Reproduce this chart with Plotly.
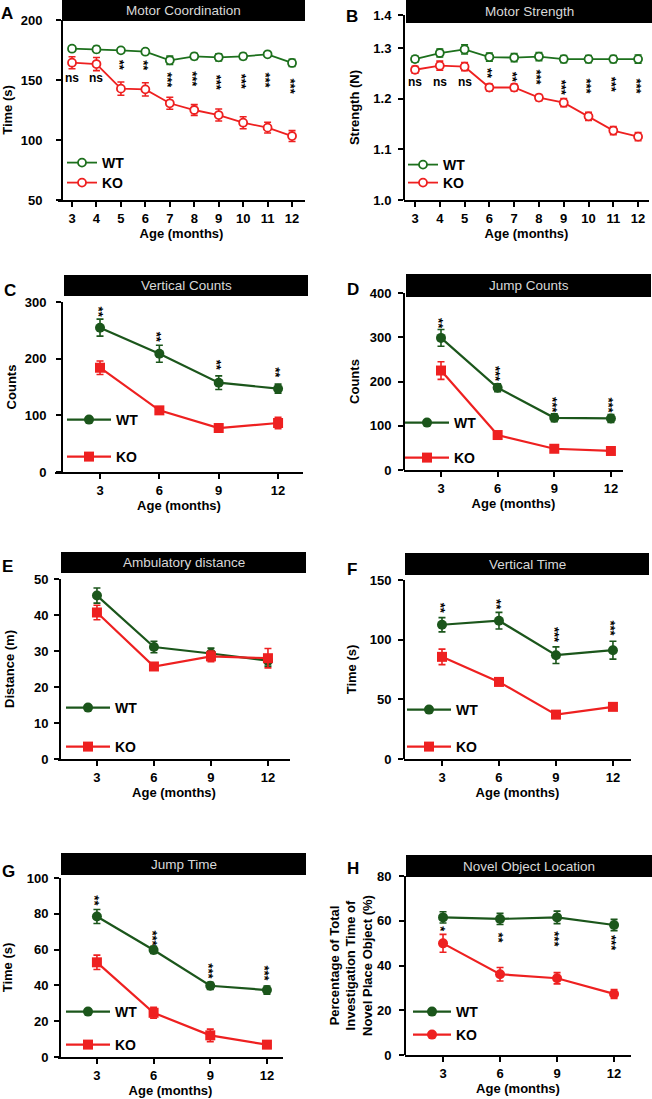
import plotly.graph_objects as go

W, H = 652, 1099

# ---------------- data ----------------
months_all = [3, 4, 5, 6, 7, 8, 9, 10, 11, 12]
months_q = [3, 6, 9, 12]

# A Motor Coordination (Time, s)
coord_wt = [176.1, 175.5, 174.7, 173.6, 166.4, 169.7, 168.9, 169.7, 171.4, 164.2]
coord_wt_err = [2.0, 2.5, 2.0, 2.0, 3.5, 2.5, 3.0, 2.5, 1.5, 3.0]
coord_ko = [164.4, 163.3, 142.8, 142.2, 130.6, 125.0, 120.8, 114.4, 110.3, 103.3]
coord_ko_err = [5.0, 5.5, 5.5, 5.5, 5.0, 4.5, 5.0, 5.0, 4.5, 4.5]
coord_sig = ["ns", "ns", "**", "**", "***", "***", "***", "***", "***", "***"]

# B Motor Strength (N)
strength_wt = [1.278, 1.290, 1.297, 1.282, 1.281, 1.283, 1.278, 1.278, 1.278, 1.278]
strength_wt_err = [0.006, 0.008, 0.009, 0.008, 0.008, 0.008, 0.007, 0.007, 0.007, 0.008]
strength_ko = [1.257, 1.265, 1.263, 1.222, 1.222, 1.202, 1.192, 1.165, 1.137, 1.125]
strength_ko_err = [0.007, 0.009, 0.008, 0.007, 0.007, 0.006, 0.008, 0.008, 0.008, 0.008]
strength_sig = ["ns", "ns", "ns", "**", "**", "***", "***", "***", "***", "***"]
strength_ticks = ["1.0", "1.1", "1.2", "1.3", "1.4"]

# C Vertical Counts
vcount_wt = [254.7, 208.8, 157.6, 147.0]
vcount_wt_err = [15, 15, 12, 8]
vcount_ko = [184.0, 108.8, 77.6, 86.5]
vcount_ko_err = [12, 5, 7, 10]
vcount_sig = ["**", "**", "**", "**"]

# D Jump Counts
jcount_wt = [298.5, 185.7, 118.0, 116.5]
jcount_wt_err = [19, 9, 9, 9]
jcount_ko = [224.8, 79.0, 48.0, 43.0]
jcount_ko_err = [20, 5, 5, 5]
jcount_sig = ["**", "***", "***", "***"]

# E Ambulatory distance (m)
dist_wt = [45.4, 31.1, 29.3, 27.3]
dist_wt_err = [2.1, 1.6, 1.5, 1.5]
dist_ko = [40.7, 25.7, 28.5, 28.0]
dist_ko_err = [2.0, 1.0, 1.5, 2.7]

# F Vertical Time (s)
vtime_wt = [112.5, 115.9, 87.0, 91.2]
vtime_wt_err = [6.0, 7.0, 7.0, 7.5]
vtime_ko = [85.6, 64.6, 37.2, 43.7]
vtime_ko_err = [6.5, 3.0, 2.0, 2.5]
vtime_sig = ["**", "**", "***", "***"]

# G Jump Time (s)
jtime_wt = [78.5, 59.8, 39.8, 37.4]
jtime_wt_err = [3.9, 2.0, 2.0, 2.3]
jtime_ko = [52.9, 24.7, 12.1, 6.9]
jtime_ko_err = [4.0, 3.0, 3.5, 1.5]
jtime_sig = ["**", "***", "***", "***"]

# H Novel Object Location (%)
nol_wt = [61.5, 60.8, 61.5, 58.1]
nol_wt_err = [2.5, 2.5, 2.8, 2.5]
nol_ko = [49.9, 36.1, 34.3, 27.3]
nol_ko_err = [4.0, 3.0, 2.5, 2.0]
nol_sig = ["*", "**", "***", "***"]

# ---------------- styling ----------------
GREEN_AB = "#1d701d"
GREEN = "#1b561b"
RED = "#ee2020"
FONT = "Liberation Sans, Arial, sans-serif"


def px_x(p):
    return p / W


def px_y(p):
    return 1 - p / H


panels = [
    dict(letter="A", title="Motor Coordination", xd=(58, 305), ypos=62, yd=(20, 200),
         xr=[2.427, 12.53], yr=[50, 200], xt=months_all, ytv=[50, 100, 150, 200], ytt=None,
         ytitle="Time (s)", tls=11, tso=6, bar=(62, 305, 0, 21), lp=(2, 14)),
    dict(letter="B", title="Motor Strength", xd=(404, 649), ypos=404, yd=(15, 200),
         xr=[2.556, 12.44], yr=[1.0, 1.365], xt=months_all, ytv=[1.0, 1.1, 1.2, 1.3, 1.365],
         ytt=strength_ticks, ytitle="Strength (N)", tls=4, tso=10, bar=(406, 652, 0, 23), lp=(347, 17)),
    dict(letter="C", title="Vertical Counts", xd=(55, 303), ypos=62, yd=(302, 472),
         xr=[0.725, 13.26], yr=[0, 300], xt=months_q, ytv=[0, 100, 200, 300], ytt=None,
         ytitle="Counts", tls=7, tso=4, bar=(64, 308, 275, 296), lp=(5, 291)),
    dict(letter="D", title="Jump Counts", xd=(404, 623), ypos=404, yd=(293, 470),
         xr=[1.04, 12.64], yr=[0, 400], xt=months_q, ytv=[0, 100, 200, 300, 400], ytt=None,
         ytitle="Counts", tls=4, tso=6, bar=(406, 651, 274, 297), lp=(348, 289)),
    dict(letter="E", title="Ambulatory distance", xd=(58, 290), ypos=60, yd=(579, 759),
         xr=[0.95, 13.16], yr=[0, 50], xt=months_q, ytv=[0, 10, 20, 30, 40, 50], ytt=None,
         ytitle="Distance (m)", tls=3, tso=15, bar=(61, 306, 552, 573), lp=(3, 566)),
    dict(letter="F", title="Vertical Time", xd=(404, 631), ypos=404, yd=(580, 759),
         xr=[1.0, 12.95], yr=[0, 150], xt=months_q, ytv=[0, 50, 100, 150], ytt=None,
         ytitle="Time (s)", tls=4, tso=9, bar=(405, 649, 553, 575), lp=(348, 569)),
    dict(letter="G", title="Jump Time", xd=(58, 283), ypos=60, yd=(878, 1057),
         xr=[0.94, 12.85], yr=[0, 100], xt=months_q, ytv=[0, 20, 40, 60, 80, 100], ytt=None,
         ytitle="Time (s)", tls=3, tso=10, bar=(61, 306, 853, 875), lp=(3, 871)),
    dict(letter="H", title="Novel Object Location", xd=(405, 631), ypos=405, yd=(876, 1055),
         xr=[1.0, 12.89], yr=[0, 80], xt=months_q, ytv=[0, 20, 40, 60, 80], ytt=None,
         ytitle="Percentage of Total<br>Investigation Time of<br>Novel Place Object (%)",
         tls=5, tso=0, bar=(406, 652, 855, 877), lp=(348, 868)),
]

series = [
    (months_all, coord_wt, coord_wt_err, coord_ko, coord_ko_err, "open", "open", GREEN_AB),
    (months_all, strength_wt, strength_wt_err, strength_ko, strength_ko_err, "open", "open", GREEN_AB),
    (months_q, vcount_wt, vcount_wt_err, vcount_ko, vcount_ko_err, "circle", "square", GREEN),
    (months_q, jcount_wt, jcount_wt_err, jcount_ko, jcount_ko_err, "circle", "square", GREEN),
    (months_q, dist_wt, dist_wt_err, dist_ko, dist_ko_err, "circle", "square", GREEN),
    (months_q, vtime_wt, vtime_wt_err, vtime_ko, vtime_ko_err, "circle", "square", GREEN),
    (months_q, jtime_wt, jtime_wt_err, jtime_ko, jtime_ko_err, "circle", "square", GREEN),
    (months_q, nol_wt, nol_wt_err, nol_ko, nol_ko_err, "circle", "circle", GREEN),
]

sig_sets = [
    (coord_sig, [151.5, 151.5, 162, 162, 150, 150.5, 148, 148.5, 150, 144.5]),
    (strength_sig, [1.233, 1.233, 1.233, 1.25, 1.243, 1.242, 1.222, 1.225, 1.227, 1.224]),
    (vcount_sig, [283, 238, 188, 176]),
    (jcount_sig, [332, 218, 146, 146]),
    None,
    (vtime_sig, [126, 129, 104, 109.5]),
    (jtime_sig, [87, 66.5, 47.7, 46.7]),
    (nol_sig, [56.2, 52.5, 51.7, 50]),
]

# legend placement: (line start x px, WT centre y px, KO centre y px, symbol width)
legend_pos = [(68, 163, 183, 30), (409, 165, 183, 30), (68, 420, 457, 44), (406, 423, 458, 44),
              (67, 708, 747, 44), (408, 710, 747, 44), (67, 1012, 1045, 44), (414, 1012, 1035, 38)]

fig = go.Figure()
layout = dict(width=W, height=H, margin=dict(l=0, r=0, t=0, b=0, autoexpand=False),
              paper_bgcolor="white", plot_bgcolor="white", showlegend=True,
              font=dict(family=FONT, color="black"))
shapes, annotations = [], []
legend_font = dict(size=14, family=FONT, weight="bold", color="black")

for i, (p, s) in enumerate(zip(panels, series)):
    n = i + 1
    xa = "xaxis" if n == 1 else f"xaxis{n}"
    ya = "yaxis" if n == 1 else f"yaxis{n}"
    xref = "x" if n == 1 else f"x{n}"
    yref = "y" if n == 1 else f"y{n}"
    lg_wt = "legend" if n == 1 else f"legend{2 * n - 1}"
    lg_ko = f"legend{2 * n}"
    x, wt, wte, ko, koe, wsym, ksym, gcol = s

    def marker(sym, col):
        if sym == "open":
            return dict(symbol="circle", size=8, color="white", line=dict(color=col, width=1.8))
        return dict(symbol=sym, size=10, color=col, line=dict(color=col, width=0))

    lw = 1.8 if wsym == "open" else 2.2
    fig.add_trace(go.Scatter(x=x, y=wt, name="WT", mode="lines+markers", xaxis=xref, yaxis=yref,
                             line=dict(color=gcol, width=lw), marker=marker(wsym, gcol),
                             error_y=dict(type="data", array=wte, color=gcol, thickness=1.6, width=3.5),
                             legend=lg_wt))
    fig.add_trace(go.Scatter(x=x, y=ko, name="KO", mode="lines+markers", xaxis=xref, yaxis=yref,
                             line=dict(color=RED, width=lw), marker=marker(ksym, RED),
                             error_y=dict(type="data", array=koe, color=RED, thickness=1.6, width=3.5),
                             legend=lg_ko))

    layout[xa] = dict(domain=[px_x(p["xd"][0]), px_x(p["xd"][1])], range=p["xr"], anchor=yref,
                      automargin=False,
                      showline=True, linecolor="black", linewidth=2, ticks="outside", ticklen=5,
                      tickwidth=2, tickcolor="black", tickvals=p["xt"], showgrid=False, zeroline=False,
                      tickfont=dict(size=13, family=FONT, weight="bold"),
                      title=dict(text="Age (months)", font=dict(size=13, family=FONT, weight="bold"),
                                 standoff=4))
    yd = dict(domain=[px_y(p["yd"][1]), px_y(p["yd"][0])], range=p["yr"], anchor="free",
              position=px_x(p["ypos"]), automargin=False,
              showline=True, linecolor="black", linewidth=2,
              ticks="outside", ticklen=5, tickwidth=2, tickcolor="black", tickvals=p["ytv"],
              ticklabelstandoff=p["tls"],
              showgrid=False, zeroline=False,
              tickfont=dict(size=13, family=FONT, weight="bold"),
              title=dict(text=p["ytitle"], font=dict(size=13, family=FONT, weight="bold"),
                         standoff=p["tso"]))
    if p["ytt"] is not None:
        yd["ticktext"] = p["ytt"]
    layout[ya] = yd

    bx0, bx1, by0, by1 = p["bar"]
    shapes.append(dict(type="rect", xref="paper", yref="paper", x0=px_x(bx0), x1=px_x(bx1),
                       y0=px_y(by1), y1=px_y(by0), fillcolor="black", line=dict(width=0), layer="above"))
    annotations.append(dict(xref="paper", yref="paper", x=px_x((bx0 + bx1) / 2), y=px_y((by0 + by1) / 2),
                            text=p["title"], showarrow=False, xanchor="center", yanchor="middle",
                            font=dict(size=13.5, family=FONT, color="#d8d8d8")))
    annotations.append(dict(xref="paper", yref="paper", x=px_x(p["lp"][0] - 3), y=px_y(p["lp"][1]),
                            text=f"<b>{p['letter']}</b>", showarrow=False, xanchor="left", yanchor="middle",
                            font=dict(size=17, family=FONT, color="black")))

    if sig_sets[i] is not None:
        labels, ys = sig_sets[i]
        for xv, lab, yv in zip(x, labels, ys):
            if lab == "ns":
                annotations.append(dict(xref=xref, yref=yref, x=xv, y=yv, text="<b>ns</b>", showarrow=False,
                                        font=dict(size=12, family=FONT, color="black")))
            else:
                annotations.append(dict(xref=xref, yref=yref, x=xv, y=yv, text=f"<b>{lab}</b>",
                                        showarrow=False, textangle=90, xshift=-2,
                                        font=dict(size=13, family=FONT, color="black")))

    lx, ly_wt, ly_ko, iw = legend_pos[i]
    for lg, ly in ((lg_wt, ly_wt), (lg_ko, ly_ko)):
        layout[lg] = dict(x=px_x(lx - 6), y=px_y(ly), xanchor="left", yanchor="middle",
                          bgcolor="rgba(0,0,0,0)", itemwidth=iw, font=legend_font)

layout["shapes"] = shapes
layout["annotations"] = annotations
fig.update_layout(**layout)
fig.write_html("out.html", config={"displayModeBar": False},
               post_script="document.body.style.margin='0px';")
